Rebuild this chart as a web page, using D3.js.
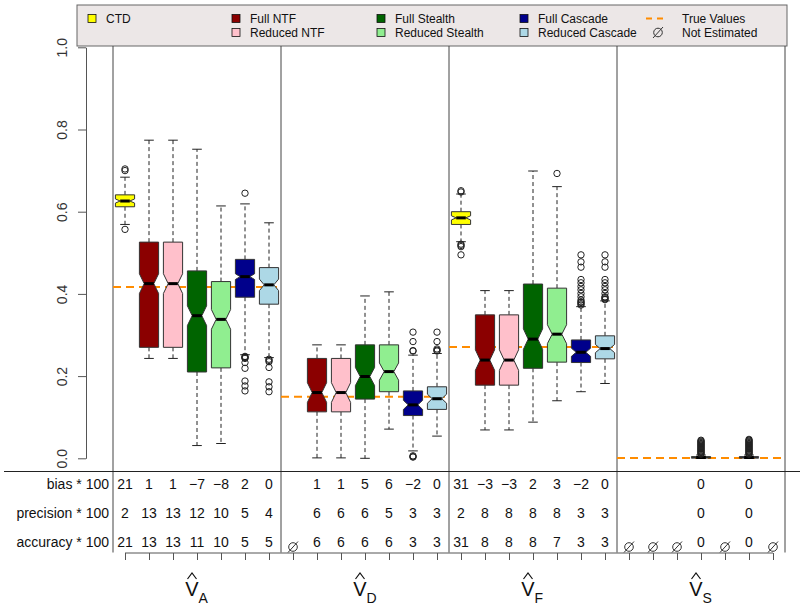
<!DOCTYPE html>
<html><head><meta charset="utf-8">
<script src="https://cdn.jsdelivr.net/npm/d3@7"></script>
<style>
body{margin:0;background:#fff;}
svg{display:block;font-family:"Liberation Sans",Arial,Helvetica,sans-serif;}
</style>
</head><body>
<svg id="chart" width="800" height="605"></svg>
<script>
// ---------------- DATA ----------------
const groupLetters = ["A", "D", "F", "S"];
const methods = ["CTD", "Full NTF", "Reduced NTF", "Full Stealth", "Reduced Stealth", "Full Cascade", "Reduced Cascade"];
const methodColors = ["#FFFF00", "#8B0000", "#FFC0CB", "#006400", "#90EE90", "#00008B", "#ADD8E6"];
const trueValues = [0.417, 0.150, 0.271, 0.001];
const yTicks = [0, 0.2, 0.4, 0.6, 0.8, 1.0];

// box statistics, one entry per position (7 methods x 4 parameters), null = not estimated
const lowWhisker = [0.569, 0.243, 0.243, 0.031, 0.036, 0.252, 0.245,
                    null, 0.001, 0.001, 0.000, 0.071, 0.018, 0.054,
                    0.527, 0.069, 0.069, 0.088, 0.140, 0.162, 0.182,
                    null, null, null, 0.000, null, 0.000, null];
const lowerHinge = [0.612, 0.270, 0.270, 0.210, 0.220, 0.392, 0.375,
                    null, 0.113, 0.113, 0.144, 0.162, 0.104, 0.119,
                    0.569, 0.178, 0.178, 0.219, 0.234, 0.233, 0.242,
                    null, null, null, 0.0005, null, 0.0005, null];
const medians    = [0.626, 0.425, 0.425, 0.347, 0.338, 0.442, 0.422,
                    null, 0.160, 0.160, 0.199, 0.211, 0.130, 0.145,
                    0.585, 0.239, 0.239, 0.290, 0.302, 0.258, 0.267,
                    null, null, null, 0.002, null, 0.002, null];
const upperHinge = [0.641, 0.526, 0.526, 0.456, 0.430, 0.484, 0.464,
                    null, 0.243, 0.243, 0.276, 0.276, 0.164, 0.174,
                    0.600, 0.349, 0.349, 0.424, 0.414, 0.288, 0.298,
                    null, null, null, 0.004, null, 0.004, null];
const highWhisker = [0.684, 0.774, 0.774, 0.752, 0.614, 0.619, 0.573,
                    null, 0.276, 0.276, 0.395, 0.405, 0.251, 0.255,
                    0.643, 0.408, 0.408, 0.699, 0.661, 0.369, 0.383,
                    null, null, null, 0.008, null, 0.008, null];
const notchHalf  = [0.005, 0.024, 0.024, 0.024, 0.024, 0.007, 0.014,
                    null, 0.024, 0.024, 0.022, 0.021, 0.011, 0.011,
                    0.005, 0.025, 0.025, 0.025, 0.023, 0.010, 0.010,
                    null, null, null, 0.0007, null, 0.0007, null];
const outliers = [
  [0.557, 0.700, 0.704], [], [], [], [],
  [0.645, 0.248, 0.246, 0.245, 0.243, 0.233, 0.219, 0.188, 0.176, 0.164],
  [0.241, 0.238, 0.235, 0.221, 0.186, 0.174, 0.162],
  [], [], [], [], [],
  [0.261, 0.262, 0.284, 0.307, 0.006, 0.004, 0.003],
  [0.261, 0.263, 0.266, 0.284, 0.307],
  [0.651, 0.648, 0.521, 0.518, 0.515, 0.495], [], [], [], [0.693],
  [0.373, 0.376, 0.379, 0.381, 0.385, 0.393, 0.401, 0.410, 0.418, 0.427, 0.435, 0.465, 0.478, 0.495],
  [0.386, 0.388, 0.391, 0.393, 0.401, 0.410, 0.418, 0.427, 0.435, 0.465, 0.478, 0.495],
  [], [], [],
  [0.010, 0.012, 0.014, 0.016, 0.018, 0.020, 0.022, 0.024, 0.026, 0.028, 0.030, 0.032, 0.034, 0.036, 0.038, 0.040, 0.042, 0.044],
  [],
  [0.010, 0.012, 0.014, 0.016, 0.018, 0.020, 0.022, 0.024, 0.026, 0.028, 0.030, 0.032, 0.034, 0.036, 0.038, 0.040, 0.042, 0.044, 0.046],
  []
];

// table rows
const rowLabels = ["bias * 100", "precision * 100", "accuracy * 100"];
const bias      = [21, 1, 1, -7, -8, 2, 0,  null, 1, 1, 5, 6, -2, 0,  31, -3, -3, 2, 3, -2, 0,  null, null, null, 0, null, 0, null];
const precision = [2, 13, 13, 12, 10, 5, 4,  null, 6, 6, 6, 5, 3, 3,  2, 8, 8, 8, 8, 3, 3,  null, null, null, 0, null, 0, null];
const accuracy  = [21, 13, 13, 11, 10, 5, 5,  null, 6, 6, 6, 6, 3, 3,  31, 8, 8, 8, 7, 3, 3,  null, null, null, 0, null, 0, null];

// ---------------- DRAWING ----------------
const svg = d3.select("#chart");
svg.append("rect").attr("width", 800).attr("height", 605).attr("fill", "#fff");

const nPos = 28;
const x = d3.scaleLinear().domain([0.5, nPos + 0.5]).range([113, 785]);
const y = d3.scaleLinear().domain([0, 1]).range([458.3, 47.3]);
const boxW = x(1.4) - x(0.6);
const ink = "#222";

// legend
const leg = svg.append("g");
leg.append("rect").attr("x", 77).attr("y", 5).attr("width", 710).attr("height", 41)
  .attr("fill", "#ECE7E7").attr("stroke", "#666").attr("stroke-width", 1);
const legCols = [92, 236, 381, 524];
const legendItems = [
  {m: 0, col: 0, row: 0}, {m: 1, col: 1, row: 0}, {m: 2, col: 1, row: 1},
  {m: 3, col: 2, row: 0}, {m: 4, col: 2, row: 1}, {m: 5, col: 3, row: 0}, {m: 6, col: 3, row: 1}
];
const legRowY = [18.5, 32.5];
legendItems.forEach(it => {
  const cx = legCols[it.col], cy = legRowY[it.row];
  leg.append("rect").attr("x", cx - 4).attr("y", cy - 4).attr("width", 8).attr("height", 8)
    .attr("fill", methodColors[it.m]).attr("stroke", "#111").attr("stroke-width", 0.8);
  leg.append("text").attr("x", cx + 14).attr("y", cy + 4.3).attr("font-size", 12).attr("fill", "#111")
    .text(methods[it.m]);
});
leg.append("line").attr("x1", 646).attr("x2", 668).attr("y1", legRowY[0]).attr("y2", legRowY[0])
  .attr("stroke", "#FF8C00").attr("stroke-width", 2).attr("stroke-dasharray", "6,5");
leg.append("text").attr("x", 682).attr("y", legRowY[0] + 4.3).attr("font-size", 12).attr("fill", "#111").text("True Values");
function emptySet(g, cx, cy) {
  g.append("circle").attr("cx", cx).attr("cy", cy).attr("r", 4.3).attr("fill", "none")
    .attr("stroke", "#333").attr("stroke-width", 1);
  g.append("line").attr("x1", cx - 5).attr("y1", cy + 5.5).attr("x2", cx + 5).attr("y2", cy - 5.5)
    .attr("stroke", "#333").attr("stroke-width", 1);
}
emptySet(leg, 658, legRowY[1]);
leg.append("text").attr("x", 682).attr("y", legRowY[1] + 4.3).attr("font-size", 12).attr("fill", "#111").text("Not Estimated");

// y axis
const yAxis = svg.append("g").attr("transform", "translate(86,0)")
  .call(d3.axisLeft(y).tickValues(yTicks).tickFormat(d3.format(".1f")).tickSize(8).tickSizeOuter(0));
yAxis.select(".domain").attr("stroke", "#555");
yAxis.selectAll(".tick line").attr("stroke", "#555");
yAxis.selectAll(".tick text").attr("x", null).attr("dy", null)
  .attr("transform", "translate(-19,0) rotate(-90)")
  .attr("text-anchor", "middle").attr("font-size", 14).attr("fill", "#333")
  .attr("font-family", "'Liberation Sans',Arial,sans-serif");

// group separators
const sepPos = [0.5, 7.5, 14.5, 21.5, 28.5];
sepPos.forEach(p => {
  svg.append("line").attr("x1", x(p)).attr("x2", x(p)).attr("y1", 46).attr("y2", 552.5)
    .attr("stroke", "#444").attr("stroke-width", 1);
});

// table separator
svg.append("line").attr("x1", 4).attr("x2", 800).attr("y1", 471.5).attr("y2", 471.5)
  .attr("stroke", "#222").attr("stroke-width", 1);

// true values
trueValues.forEach((v, g) => {
  svg.append("line").attr("x1", x(g * 7 + 0.5)).attr("x2", x(g * 7 + 7.5))
    .attr("y1", y(v)).attr("y2", y(v))
    .attr("stroke", "#FF8C00").attr("stroke-width", 2).attr("stroke-dasharray", "8,5")
    .attr("class", "truth");
});

// boxes
const boxes = svg.append("g");
medians.forEach((med, i) => {
  if (med == null) return;
  const cx = x(i + 1), hw = boxW / 2, col = methodColors[i % 7];
  const q1 = lowerHinge[i], q3 = upperHinge[i], nh = notchHalf[i];
  const g = boxes.append("g");
  // whiskers
  g.append("line").attr("x1", cx).attr("x2", cx).attr("y1", y(q3)).attr("y2", y(highWhisker[i]))
    .attr("stroke", ink).attr("stroke-dasharray", "4,3");
  g.append("line").attr("x1", cx).attr("x2", cx).attr("y1", y(q1)).attr("y2", y(lowWhisker[i]))
    .attr("stroke", ink).attr("stroke-dasharray", "4,3");
  [highWhisker[i], lowWhisker[i]].forEach(v => {
    g.append("line").attr("x1", cx - hw / 2).attr("x2", cx + hw / 2).attr("y1", y(v)).attr("y2", y(v))
      .attr("stroke", ink);
  });
  // notched box
  const pts = [
    [cx - hw, y(q1)], [cx - hw, y(med - nh)], [cx - hw / 2, y(med)], [cx - hw, y(med + nh)], [cx - hw, y(q3)],
    [cx + hw, y(q3)], [cx + hw, y(med + nh)], [cx + hw / 2, y(med)], [cx + hw, y(med - nh)], [cx + hw, y(q1)]
  ];
  g.append("polygon").attr("points", pts.map(p => p.join(",")).join(" "))
    .attr("fill", col).attr("stroke", "#333").attr("stroke-width", 1);
  g.append("line").attr("x1", cx - hw / 2).attr("x2", cx + hw / 2).attr("y1", y(med)).attr("y2", y(med))
    .attr("stroke", "#000").attr("stroke-width", 3);
  // outliers
  outliers[i].forEach(v => {
    g.append("circle").attr("cx", cx).attr("cy", y(v)).attr("r", 3.2)
      .attr("fill", "none").attr("stroke", ink).attr("stroke-width", 1);
  });
});

// table
const rowBase = [489.3, 517.7, 546.7];
const rows = [bias, precision, accuracy];
const fmt = v => (v < 0 ? "\u2212" + Math.abs(v) : String(v));
rowLabels.forEach((lab, r) => {
  svg.append("text").attr("x", 109).attr("y", rowBase[r]).attr("text-anchor", "end")
    .attr("font-size", 14).attr("fill", "#111").text(lab);
  rows[r].forEach((v, i) => {
    if (v == null) return;
    svg.append("text").attr("x", x(i + 1)).attr("y", rowBase[r]).attr("text-anchor", "middle")
      .attr("font-size", 14).attr("fill", "#111").text(fmt(v));
  });
});
// not estimated markers
accuracy.forEach((v, i) => {
  if (v == null) emptySet(svg, x(i + 1), 547);
});

// bottom axis
const xAxis = svg.append("g").attr("transform", "translate(0,553)")
  .call(d3.axisBottom(x).tickValues(d3.range(1, nPos + 1)).tickFormat("").tickSize(7).tickSizeOuter(0));
xAxis.select(".domain").remove();
xAxis.selectAll(".tick line").attr("stroke", "#555");
xAxis.append("line").attr("x1", x(1)).attr("x2", x(nPos)).attr("y1", 0).attr("y2", 0).attr("stroke", "#555");

// group labels V-hat with subscripts
groupLetters.forEach((L, g) => {
  const cx = x(g * 7 + 4);
  const vx = cx - 5;
  svg.append("text").attr("x", vx).attr("y", 596).attr("text-anchor", "middle")
    .attr("font-size", 20).attr("fill", "#111").text("V");
  svg.append("path").attr("d", `M${vx - 4.5},579 L${vx},573 L${vx + 4.5},579`)
    .attr("fill", "none").attr("stroke", "#111").attr("stroke-width", 1.2);
  svg.append("text").attr("x", cx + 1.5).attr("y", 603).attr("text-anchor", "start")
    .attr("font-size", 14).attr("fill", "#111").text(L);
});
</script>
</body></html>
